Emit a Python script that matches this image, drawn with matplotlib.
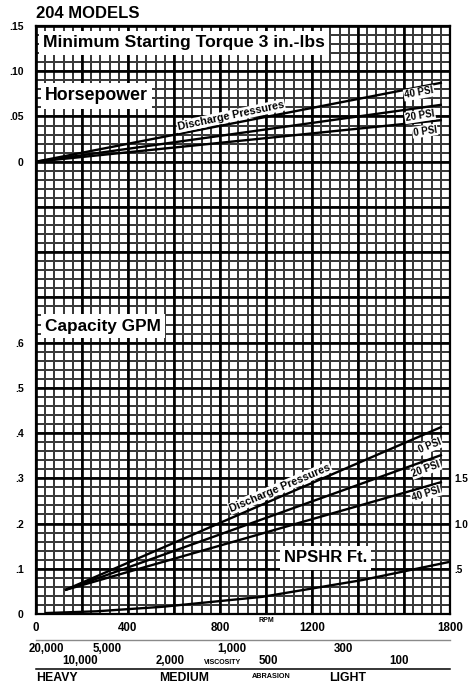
import numpy as np
import matplotlib
matplotlib.use('Agg')
import matplotlib.pyplot as plt

plt.rcParams['font.family'] = ['Liberation Sans', 'DejaVu Sans']
plt.rcParams['font.weight'] = 'bold'

# Datos
# Horsepower (eje superior)
rpm_hp = [0, 1765]
hp_40psi = [0.0, 0.0874]
hp_20psi = [0.0, 0.063]
hp_0psi = [0.0, 0.046]

# Capacidad GPM (eje inferior)
rpm_cap = [126, 1765]
cap_0psi = [0.053, 0.414]
cap_20psi = [0.053, 0.352]
cap_40psi = [0.053, 0.292]

# NPSHR Ft.
rpm_npshr = [39, 264, 551, 985, 1418, 1796]
npshr = [0.01, 0.03, 0.08, 0.19, 0.375, 0.575]

# Etiquetas de ejes
rpm_labels = [0, 400, 800, 1200, 1800]
hp_ticks = [0, 0.05, 0.10, 0.15]
hp_tick_labels = ['0', '.05', '.10', '.15']
gpm_ticks = [0, 0.1, 0.2, 0.3, 0.4, 0.5, 0.6]
gpm_tick_labels = ['0', '.1', '.2', '.3', '.4', '.5', '.6']
npshr_ticks = [0.5, 1.0, 1.5]
npshr_tick_labels = ['.5', '1.0', '1.5']

# Escala de viscosidad (equivalente en rpm)
visc_row1 = ['20,000', '5,000', '1,000', '300']
visc_row1_rpm = [43, 309, 852, 1335]
visc_row2 = ['10,000', '2,000', '500', '100']
visc_row2_rpm = [191, 583, 1009, 1578]
abrasion = ['HEAVY', 'MEDIUM', 'LIGHT']
abrasion_rpm = [0, 643, 1357]

W, H = 469, 687
fig = plt.figure(figsize=(W / 100, H / 100), dpi=100)
ax = fig.add_axes([36 / W, (H - 614) / H, 414 / W, 588 / H])

ax.set_xlim(0, 1800)
ax.set_ylim(0, 1.3)

# Grilla tipo papel milimetrado (menor cada 40 rpm / 0.02 GPM, mayor cada 200 rpm / 0.1 GPM)
x_minor = np.arange(0, 1801, 40)
y_minor = np.linspace(0, 1.3, 66)
x_major = np.arange(0, 1801, 200)
y_major = np.linspace(0, 1.3, 14)
ax.vlines(x_minor, 0, 1.3, color='#3a3a3a', linewidth=1.44, zorder=0.4)
ax.hlines(y_minor, 0, 1800, color='#3a3a3a', linewidth=1.44, zorder=0.4)
ax.vlines(x_major, 0, 1.3, color='#000000', linewidth=1.9, zorder=0.5)
ax.hlines(y_major, 0, 1800, color='#000000', linewidth=1.9, zorder=0.5)

ax.set_xticks(rpm_labels)
ax.set_yticks(gpm_ticks)
ax.set_yticklabels(gpm_tick_labels)
ax.tick_params(which='both', length=0)
ax.tick_params(axis='x', pad=6, labelsize=8.3)
ax.tick_params(axis='y', pad=9, labelsize=7.5)

for s in ax.spines.values():
    s.set_linewidth(1.6)
    s.set_color('#000000')

# Eje HP (superior, etiquetas a la izquierda)
ax_hp = ax.twinx()
ax_hp.set_ylim(-0.5, 0.15)
ax_hp.yaxis.tick_left()
ax_hp.set_yticks(hp_ticks)
ax_hp.set_yticklabels(hp_tick_labels)
ax_hp.tick_params(length=0, pad=9, labelsize=7.5)

# Eje NPSHR (derecha)
ax_np = ax.twinx()
ax_np.set_ylim(0, 6.5)
ax_np.set_yticks(npshr_ticks)
ax_np.set_yticklabels(npshr_tick_labels)
ax_np.tick_params(length=0, pad=3, labelsize=7.2)
for a in (ax_hp, ax_np):
    for s in a.spines.values():
        s.set_visible(False)

lw = 1.7
ax_hp.plot(rpm_hp, hp_40psi, color='black', lw=lw, solid_capstyle='butt')
ax_hp.plot(rpm_hp, hp_20psi, color='black', lw=lw, solid_capstyle='butt')
ax_hp.plot(rpm_hp, hp_0psi, color='black', lw=lw, solid_capstyle='butt')

ax.plot(rpm_cap, cap_0psi, color='black', lw=lw, solid_capstyle='butt')
ax.plot(rpm_cap, cap_20psi, color='black', lw=lw, solid_capstyle='butt')
ax.plot(rpm_cap, cap_40psi, color='black', lw=lw, solid_capstyle='butt')

ax_np.plot(rpm_npshr, npshr, color='black', lw=lw, solid_capstyle='butt')

white_small = dict(facecolor='white', edgecolor='none', pad=0.6)
white_big = dict(facecolor='white', edgecolor='none', pad=3)

# Rotulos
fig.text(36 / W, 1 - 14 / H, '204 MODELS', fontsize=12, weight='bold', ha='left', va='center')
fig.text(43 / W, 1 - 43 / H, 'Minimum Starting Torque 3 in.-lbs', fontsize=12.6, weight='bold',
         ha='left', va='center', bbox=white_big)
fig.text(45 / W, 1 - 96 / H, 'Horsepower', fontsize=12.8, weight='bold', ha='left', va='center',
         bbox=white_big)
fig.text(45 / W, 1 - 326 / H, 'Capacity GPM', fontsize=12.4, weight='bold', ha='left', va='center',
         bbox=white_big)
fig.text(284 / W, 1 - 558 / H, 'NPSHR Ft.', fontsize=12, weight='bold', ha='left', va='center',
         bbox=white_big)

fig.text(231 / W, 1 - 116 / H, 'Discharge Pressures', fontsize=7.8, weight='bold', rotation=12,
         ha='center', va='center', rotation_mode='anchor', bbox=white_small)
fig.text(280 / W, 1 - 488 / H, 'Discharge Pressures', fontsize=7.8, weight='bold', rotation=23,
         ha='center', va='center', rotation_mode='anchor', bbox=white_small)

for txt, (px, py), rot in [('40 PSI', (419, 93), 10), ('20 PSI', (420, 116), 9), ('0 PSI', (425, 131), 8),
                           ('0 PSI', (430, 446), 22), ('20 PSI', (426, 469), 20), ('40 PSI', (426, 494), 17)]:
    fig.text(px / W, 1 - py / H, txt, fontsize=7, weight='bold', rotation=rot, ha='center',
             va='center', rotation_mode='anchor', bbox=white_small)

fig.text(266 / W, 1 - 621 / H, 'RPM', fontsize=5, weight='bold', ha='center', va='center')

# Escala de viscosidad y abrasion
trans = ax.get_xaxis_transform()
ax.plot([0, 1800], [-0.045, -0.045], transform=trans, color='#8a8a8a', lw=1.0, clip_on=False)
ax.plot([0, 1800], [-0.093, -0.093], transform=trans, color='black', lw=1.1, clip_on=False)
for lbl, r in zip(visc_row1, visc_row1_rpm):
    ax.text(r, -0.059, lbl, transform=trans, fontsize=8.3, weight='bold', ha='center', va='center')
for lbl, r in zip(visc_row2, visc_row2_rpm):
    ax.text(r, -0.080, lbl, transform=trans, fontsize=8.3, weight='bold', ha='center', va='center')
ax.text(813, -0.083, 'VISCOSITY', transform=trans, fontsize=5, weight='bold', ha='center', va='center')
for lbl, r in zip(abrasion, abrasion_rpm):
    ax.text(r, -0.109, lbl, transform=trans, fontsize=8.8, weight='bold',
            ha='left' if r == 0 else 'center', va='center')
ax.text(1022, -0.106, 'ABRASION', transform=trans, fontsize=5.2, weight='bold', ha='center', va='center')

fig.savefig('out.png', dpi=100)
